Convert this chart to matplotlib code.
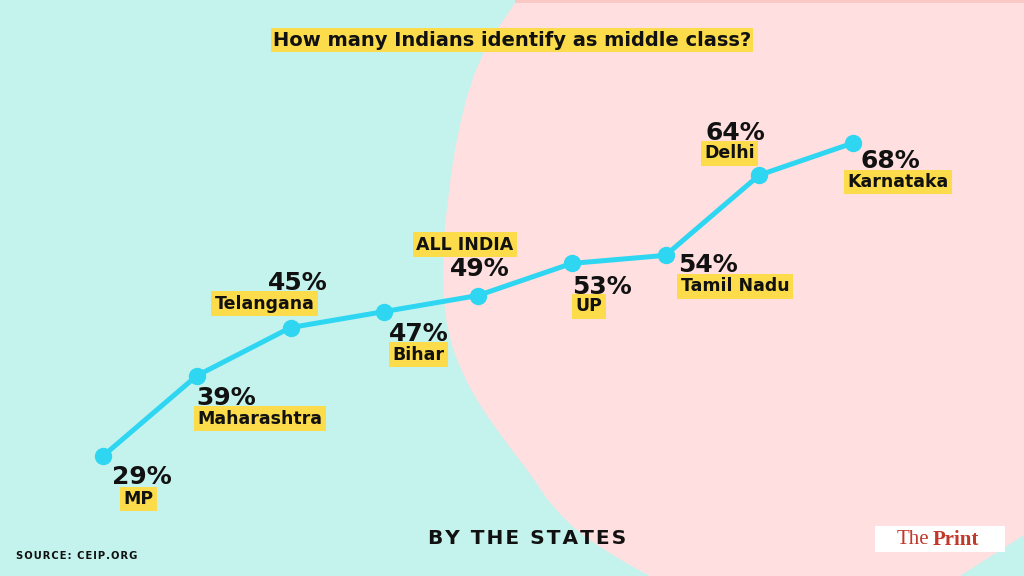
import numpy as np
import matplotlib.pyplot as plt
from matplotlib.patches import Polygon, Rectangle

# data
states = ['MP', 'Maharashtra', 'Telangana', 'Bihar', 'ALL INDIA', 'UP',
          'Tamil Nadu', 'Delhi', 'Karnataka']
share = [29, 39, 45, 47, 49, 53, 54, 64, 68]

# label offsets in pixels: (pct dx, pct baseline dy, name dx, name center dy)
offsets = [
    (9, -28, 20, -43),
    (0, -29, 1, -43),
    (-23, 38, -76, 24),
    (5, -29, 8, -43),
    (-28, 20, -62, 51),
    (0, -31, 4, -43),
    (13, -17, 15, -31),
    (-54, 35, -55, 22),
    (7, -25, -6, -39),
]

MINT = '#c4f3ed'
PINK = '#ffdfdf'
YELLOW = '#fcdc4a'
LINE = '#2ed6f2'


def spaced(s):
    # a little tracking between letters
    return '\u200a'.join(s)


fig = plt.figure(figsize=(10.24, 5.76), dpi=100)
fig.patch.set_facecolor(MINT)

# background decoration in pixel coords
bg = fig.add_axes([0, 0, 1, 1])
bg.set_xlim(0, 1024)
bg.set_ylim(576, 0)
bg.axis('off')
edge = [(517, 0), (500, 25), (485, 50), (474, 75), (466, 100), (460, 125),
        (455, 150), (451, 175), (448, 200), (445, 225), (444, 250), (443, 275),
        (444, 300), (447, 325), (452, 345), (458, 362), (467, 382), (477, 400),
        (488, 417), (500, 434), (512, 450), (525, 467), (537, 484), (548, 500),
        (560, 514), (572, 526), (587, 538), (605, 550), (626, 563), (650, 576),
        (960, 576), (1024, 535), (1024, 0)]
bg.add_patch(Polygon(edge, closed=True, fc=PINK, ec='none'))
bg.add_patch(Rectangle((515, 0), 509, 3, fc='#fbc9c5', ec='none'))

# line chart
ax = fig.add_axes([0, 0, 1, 1])
ax.patch.set_alpha(0)
ax.axis('off')
ax.set_xlim(-1.0987, 9.824)
ax.set_ylim(14.05, 85.82)
x = np.arange(len(states))
ax.plot(x, share, color=LINE, lw=3.6, marker='o', ms=11.5, zorder=3)

for i, (name, v) in enumerate(zip(states, share)):
    pdx, pdy, ndx, ndy = offsets[i]
    ax.annotate(f'{v}%', (i, v), xytext=(pdx, pdy), textcoords='offset pixels',
                ha='left', va='baseline', fontsize=18, fontweight='bold',
                color='#111111', zorder=4)
    ax.annotate(name, (i, v), xytext=(ndx, ndy), textcoords='offset pixels',
                ha='left', va='center', fontsize=12.5, fontweight='bold',
                color='#111111', zorder=4,
                bbox=dict(boxstyle='square,pad=0.2', fc=YELLOW, ec='none'))

# titles and credits
fig.text(0.5, 1 - 40 / 576, 'How many Indians identify as middle class?',
         ha='center', va='center', fontsize=14, fontweight='bold', color='#111111',
         bbox=dict(boxstyle='square,pad=0.12', fc=YELLOW, ec='none'))
fig.text(527 / 1024, 1 - 538 / 576, spaced('BY THE STATES'), ha='center',
         va='center', fontsize=14.5, fontweight='bold', color='#111111')
fig.text(16 / 1024, 1 - 556 / 576, spaced('SOURCE: CEIP.ORG'), ha='left',
         va='center', fontsize=7.2, fontweight='bold', color='#111111')

bg.add_patch(Rectangle((875, 526), 130, 26, fc='white', ec='none'))
bg.text(897, 540, 'The', ha='left', va='center', fontsize=15,
        family='Liberation Serif', color='#c0392b')
bg.text(933, 540, 'Print', ha='left', va='center', fontsize=15,
        family='Liberation Serif', fontweight='bold', color='#c0392b')

fig.savefig('out.png', dpi=100, facecolor=fig.get_facecolor())
